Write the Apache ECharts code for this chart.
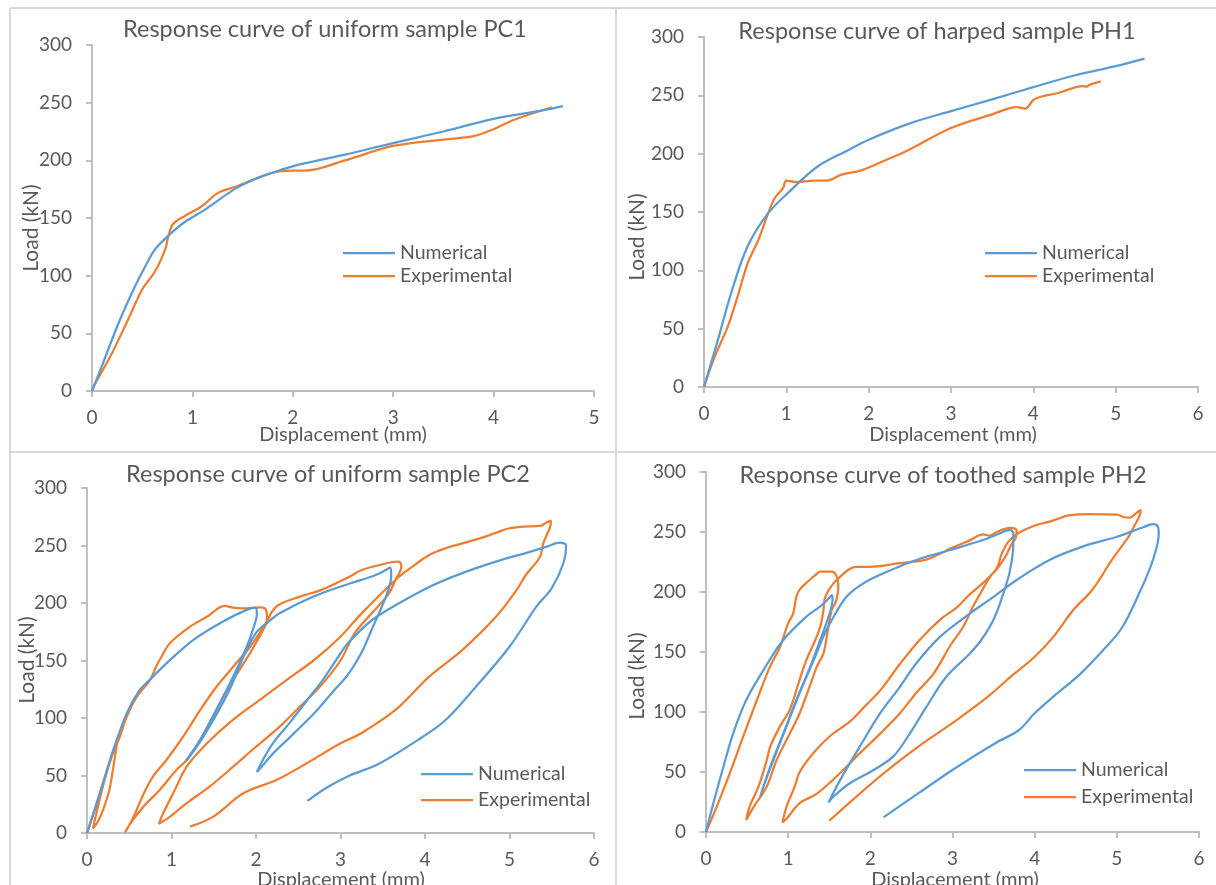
<!DOCTYPE html>
<html>
<head>
<meta charset="utf-8">
<script src="https://cdn.jsdelivr.net/npm/echarts@6/dist/echarts.min.js"></script>
<style>
  html, body { margin: 0; padding: 0; background: #ffffff; }
  #chart { width: 1216px; height: 885px; }
</style>
</head>
<body>
<div id="chart"></div>
<script>
// Load (kN) versus displacement (mm) response curves of four prestressed samples,
// numerical model against laboratory test. Each series is an ordered list of
// [displacement, load] points, so loading / unloading loops are kept in sequence.

const panelTitles = [
  'Response curve of uniform sample PC1',
  'Response curve of harped sample PH1',
  'Response curve of uniform sample PC2',
  'Response curve of toothed sample PH2'
];
const seriesNames = ['Numerical', 'Experimental'];
const xAxisTitle = 'Displacement (mm)';
const yAxisTitle = 'Load (kN)';
const displacementMax = [5, 6, 6, 6];
const displacementStep = 1;
const loadMax = 300;
const loadStep = 50;

// PC1 – monotonic
const pc1Numerical = [
  [0, 0], [0.1, 22], [0.265, 59], [0.43, 91], [0.53, 108], [0.63, 123], [0.79, 137],
  [0.93, 147], [1.13, 157.5], [1.42, 175], [1.6, 183], [1.79, 189], [2.05, 196],
  [2.52, 205], [3.0, 215], [3.5, 225], [4.0, 236], [4.5, 243.5], [4.69, 247]
];
const pc1Experimental = [
  [0, 0], [0.03, 6], [0.2, 33], [0.36, 62], [0.5, 88], [0.63, 104], [0.73, 123],
  [0.76, 134], [0.81, 145], [0.93, 152], [1.09, 160], [1.26, 172], [1.46, 178],
  [1.79, 189], [1.99, 191], [2.12, 191], [2.52, 200], [3.0, 212.5], [3.5, 218],
  [3.8, 221], [4.0, 227], [4.2, 235], [4.58, 246]
];

// PH1 – monotonic
const ph1Numerical = [
  [0, 0], [0.17, 40.6], [0.33, 80.6], [0.53, 120.6], [0.78, 149], [1.06, 169],
  [1.38, 189], [1.75, 203], [2.0, 212], [2.5, 226], [3.0, 236.5], [3.5, 246.5],
  [4.0, 257], [4.5, 267], [5.0, 275], [5.35, 281.5]
];
const ph1Experimental = [
  [0, 0], [0.13, 26], [0.29, 52], [0.41, 78], [0.53, 106], [0.66, 126], [0.78, 149],
  [0.86, 162], [0.96, 170.5], [1.0, 177], [1.12, 175.7], [1.34, 177], [1.49, 177],
  [1.67, 182], [1.91, 185.7], [2.19, 194], [2.48, 203], [3.0, 222], [3.5, 233.7],
  [3.8, 240], [3.9, 238.6], [4.0, 246], [4.1, 249], [4.3, 252], [4.6, 258],
  [4.65, 257.4], [4.68, 259], [4.82, 262]
];

// PC2 – three loading / unloading cycles
const pc2Numerical = [
  [0, 0], [0.15, 34], [0.31, 72], [0.47, 104], [0.62, 124], [0.74, 133], [0.94, 147.5],
  [1.26, 168], [1.61, 184], [1.89, 194], [2.0, 196],
  [2.01, 190], [1.99, 183], [1.89, 162], [1.73, 136], [1.53, 107], [1.34, 81],
  [1.22, 68], [1.17, 62.5],
  [1.3, 75], [1.5, 99], [1.69, 125], [1.85, 153], [2.0, 174], [2.12, 182], [2.28, 191],
  [2.68, 205.6], [3.11, 217], [3.37, 223], [3.52, 228], [3.59, 231],
  [3.6, 223], [3.55, 208], [3.49, 197], [3.37, 177], [3.25, 157], [3.09, 138],
  [2.9, 122], [2.7, 105], [2.44, 86], [2.2, 69], [2.06, 57], [2.01, 53],
  [2.07, 62], [2.2, 78], [2.4, 96], [2.6, 115], [2.8, 134], [2.99, 155], [3.1, 166],
  [3.37, 185], [3.65, 198], [4.05, 214], [4.44, 226], [4.84, 236], [5.24, 244.5],
  [5.44, 249], [5.6, 252.5], [5.67, 250],
  [5.64, 235], [5.5, 213], [5.32, 197], [5.0, 162], [4.6, 127], [4.24, 98],
  [3.97, 83.5], [3.45, 60], [3.11, 50], [2.85, 40], [2.61, 28]
];
const pc2Experimental = [
  [0, 0], [0.1, 22], [0.2, 46], [0.3, 68], [0.36, 80],
  [0.33, 66], [0.3, 52], [0.26, 36], [0.2, 22], [0.13, 10], [0.07, 4],
  [0.12, 20], [0.2, 44], [0.3, 68], [0.39, 84], [0.47, 101], [0.59, 118.5],
  [0.745, 133], [0.82, 145], [0.88, 153], [0.98, 165], [1.22, 179.5], [1.42, 188],
  [1.63, 197.4], [1.73, 196], [1.85, 195.4], [2.05, 196.3], [2.11, 195], [2.13, 188],
  [2.12, 182], [2.05, 172], [1.93, 156.5], [1.73, 133], [1.53, 107], [1.34, 81],
  [1.18, 63.5], [1.06, 55], [0.86, 37.4], [0.67, 23], [0.51, 8], [0.45, 0.5],
  [0.55, 14], [0.67, 34], [0.78, 49], [0.94, 63.5], [1.14, 84], [1.34, 107],
  [1.53, 127], [1.73, 144.6], [1.93, 162], [2.09, 179], [2.24, 196.8], [2.52, 205.5],
  [2.76, 211], [3.11, 223], [3.25, 228.7], [3.57, 235], [3.69, 236], [3.72, 231.6],
  [3.65, 220], [3.57, 208], [3.37, 191], [3.17, 174], [3.0, 150], [2.76, 127.5],
  [2.52, 110], [2.28, 92.5], [2.0, 75], [1.73, 57.7], [1.45, 40.3], [1.18, 26],
  [0.98, 14], [0.85, 8],
  [0.9, 17], [1.02, 34.5], [1.18, 57.7], [1.42, 78], [1.73, 98.6], [2.05, 116],
  [2.36, 133], [2.68, 150], [2.99, 170], [3.25, 191], [3.65, 220], [3.85, 231.6],
  [4.05, 241.7], [4.24, 247.5], [4.44, 251.8], [4.64, 256], [4.84, 261], [5.0, 265],
  [5.16, 266.4], [5.36, 267], [5.44, 270], [5.49, 271.6],
  [5.48, 266], [5.4, 252], [5.36, 240], [5.2, 225], [5.08, 211], [4.84, 188],
  [4.44, 159], [4.05, 136], [3.65, 107], [3.25, 87], [3.0, 78], [2.6, 60.6],
  [2.24, 46], [1.85, 34.5], [1.49, 14], [1.22, 5.5]
];

// PH2 – three loading / unloading cycles
const ph2Numerical = [
  [0, 0], [0.09, 24], [0.21, 54], [0.33, 82], [0.49, 110], [0.7, 135], [0.94, 160],
  [1.22, 179.4], [1.39, 188], [1.5, 195], [1.53, 197.5],
  [1.54, 194], [1.49, 179], [1.39, 160], [1.27, 138], [1.1, 110], [0.94, 82],
  [0.78, 54], [0.69, 36], [0.66, 29.4],
  [0.7, 38], [0.82, 60], [0.98, 88], [1.14, 116], [1.31, 143], [1.43, 163],
  [1.55, 179], [1.71, 196], [1.91, 207], [2.16, 215.6], [2.56, 226.7], [2.97, 235],
  [3.37, 243.3], [3.58, 249], [3.7, 251.7], [3.74, 249],
  [3.74, 240], [3.7, 218], [3.62, 199], [3.5, 177], [3.35, 160], [3.2, 148],
  [2.92, 129], [2.68, 104], [2.48, 82], [2.28, 63], [2.04, 51.7], [1.75, 40.6],
  [1.55, 29.4], [1.49, 24.4],
  [1.63, 43], [1.87, 71], [2.12, 99], [2.36, 121], [2.56, 140.6], [2.85, 162.8],
  [3.21, 182], [3.5, 196], [3.78, 210], [4.18, 226.7], [4.59, 238], [5.0, 246],
  [5.32, 254], [5.44, 256.5], [5.5, 254.5], [5.51, 248], [5.48, 236],
  [5.41, 221], [5.26, 197], [5.06, 170], [4.84, 152], [4.56, 132], [4.23, 113],
  [4.0, 99], [3.81, 85], [3.52, 74], [3.05, 54], [2.6, 33], [2.16, 12.2]
];
const ph2Experimental = [
  [0, 0], [0.13, 21], [0.29, 49], [0.45, 79], [0.62, 110], [0.78, 138], [0.9, 154],
  [1.0, 174], [1.06, 182], [1.1, 196], [1.14, 202], [1.26, 210], [1.33, 214],
  [1.39, 217], [1.53, 217], [1.59, 213], [1.61, 204], [1.58, 192],
  [1.53, 185], [1.49, 171], [1.43, 149], [1.35, 138], [1.26, 121], [1.14, 99],
  [1.02, 82], [0.86, 60], [0.74, 38], [0.58, 21], [0.49, 10],
  [0.53, 21], [0.64, 38], [0.74, 60], [0.78, 71], [0.9, 88], [1.02, 102], [1.14, 127],
  [1.22, 143], [1.33, 160], [1.39, 171], [1.43, 185], [1.44, 193], [1.48, 200],
  [1.59, 210], [1.83, 221], [1.99, 221], [2.36, 224], [2.68, 227], [2.85, 232],
  [3.0, 237], [3.21, 243], [3.37, 248], [3.45, 247], [3.54, 250], [3.7, 253.5],
  [3.78, 251.5], [3.77, 245],
  [3.72, 240], [3.64, 229], [3.55, 220], [3.45, 212], [3.35, 200], [3.25, 188],
  [3.13, 171], [2.97, 155], [2.77, 132], [2.56, 116], [2.36, 99], [2.12, 82],
  [1.87, 65.5], [1.63, 49], [1.35, 32], [1.14, 24], [0.98, 11], [0.93, 8],
  [0.98, 21], [1.08, 38], [1.14, 50], [1.31, 66], [1.51, 80], [1.75, 92], [1.91, 103],
  [2.12, 118], [2.36, 140], [2.6, 160], [2.85, 177], [3.05, 187], [3.21, 198],
  [3.41, 210], [3.54, 220], [3.6, 232], [3.68, 242], [3.8, 249], [4.02, 255.8],
  [4.18, 258.6], [4.43, 264], [4.67, 265], [5.0, 264.5], [5.08, 262.5], [5.16, 262],
  [5.24, 266], [5.29, 268.5],
  [5.28, 264], [5.22, 256], [5.16, 248], [5.13, 244.7], [4.94, 226.7], [4.7, 201.7],
  [4.47, 185], [4.23, 162.8], [4.0, 146], [3.71, 129.4], [3.43, 112.8], [3.05, 93.3],
  [2.58, 71], [2.11, 46], [1.5, 9.4]
];

const panelSeries = [
  [pc1Numerical, pc1Experimental],
  [ph1Numerical, ph1Experimental],
  [pc2Numerical, pc2Experimental],
  [ph2Numerical, ph2Experimental]
];

// ---- styling and layout ----
const FONT = 'Lato, "Open Sans", sans-serif';
const TEXT_GREY = '#595959';
const AXIS_GREY = '#bfbfbf';
const FRAME_GREY = '#d9d9d9';
const lineColors = ['#5b9bd5', '#ed7d31'];

const layout = [
  { grid: { left: 92, top: 45, width: 502, height: 346 },
    title: [325, 29], xName: [343, 435], yName: [31, 228], legend: { left: 343, top: 243, gap: 3 } },
  { grid: { left: 704, top: 37, width: 494, height: 350 },
    title: [937, 31], xName: [953, 435], yName: [637, 237], legend: { left: 985, top: 243, gap: 3 } },
  { grid: { left: 87, top: 488, width: 507, height: 345 },
    title: [328, 474], xName: [341, 880], yName: [27, 660], legend: { left: 421, top: 764, gap: 6 } },
  { grid: { left: 706, top: 472, width: 493, height: 360 },
    title: [943, 475], xName: [955, 880], yName: [637, 676], legend: { left: 1024, top: 760, gap: 7 } }
];

const axisLine = { show: true, lineStyle: { color: AXIS_GREY, width: 2 } };
const axisTick = { show: true, length: 6, lineStyle: { color: AXIS_GREY, width: 2 } };
const tickLabel = { color: TEXT_GREY, fontFamily: FONT, fontSize: 19 };

const grids = [], xAxes = [], yAxes = [], series = [], legends = [], graphics = [];

layout.forEach((p, i) => {
  grids.push(Object.assign({ containLabel: false }, p.grid));
  xAxes.push({
    type: 'value', gridIndex: i, min: 0, max: displacementMax[i], interval: displacementStep,
    axisLine, axisTick, splitLine: { show: false },
    axisLabel: Object.assign({ margin: 17 }, tickLabel)
  });
  yAxes.push({
    type: 'value', gridIndex: i, min: 0, max: loadMax, interval: loadStep,
    axisLine, axisTick, splitLine: { show: false },
    axisLabel: Object.assign({ margin: 20 }, tickLabel)
  });
  panelSeries[i].forEach((pts, k) => {
    series.push({
      type: 'line', name: seriesNames[k], xAxisIndex: i, yAxisIndex: i,
      data: pts, showSymbol: false, symbol: 'none', smooth: 0.35,
      lineStyle: { color: lineColors[k], width: 2.25 },
      itemStyle: { color: lineColors[k] },
      z: k === 0 ? 3 : 2
    });
  });
  legends.push({
    orient: 'vertical', left: p.legend.left, top: p.legend.top, padding: 0,
    itemGap: p.legend.gap, itemWidth: 52, itemHeight: 2.25, icon: 'rect',
    data: seriesNames,
    textStyle: { color: TEXT_GREY, fontFamily: FONT, fontSize: 19.5, lineHeight: 20 }
  });
  graphics.push({
    type: 'text', x: p.title[0], y: p.title[1], silent: true,
    style: { text: panelTitles[i], fill: TEXT_GREY, font: '23.5px ' + FONT, align: 'center', verticalAlign: 'middle' }
  });
  graphics.push({
    type: 'text', x: p.xName[0], y: p.xName[1], silent: true,
    style: { text: xAxisTitle, fill: TEXT_GREY, font: '20px ' + FONT, align: 'center', verticalAlign: 'middle' }
  });
  graphics.push({
    type: 'text', x: p.yName[0], y: p.yName[1], rotation: Math.PI / 2, silent: true,
    style: { text: yAxisTitle, fill: TEXT_GREY, font: '21px ' + FONT, align: 'center', verticalAlign: 'middle' }
  });
});

// light frame lines separating the four chart areas
[
  [10, 8, 10, 885], [616, 8, 616, 885], [10, 8, 1216, 8], [10, 452, 1216, 452]
].forEach(([x1, y1, x2, y2]) => {
  graphics.push({
    type: 'line', silent: true, z: -1,
    shape: { x1, y1, x2, y2 },
    style: { stroke: FRAME_GREY, lineWidth: 2 }
  });
});

const chart = echarts.init(document.getElementById('chart'), null, { renderer: 'canvas' });
chart.setOption({
  animation: false,
  backgroundColor: '#ffffff',
  grid: grids,
  xAxis: xAxes,
  yAxis: yAxes,
  legend: legends,
  series: series,
  graphic: graphics
});
</script>
</body>
</html>
